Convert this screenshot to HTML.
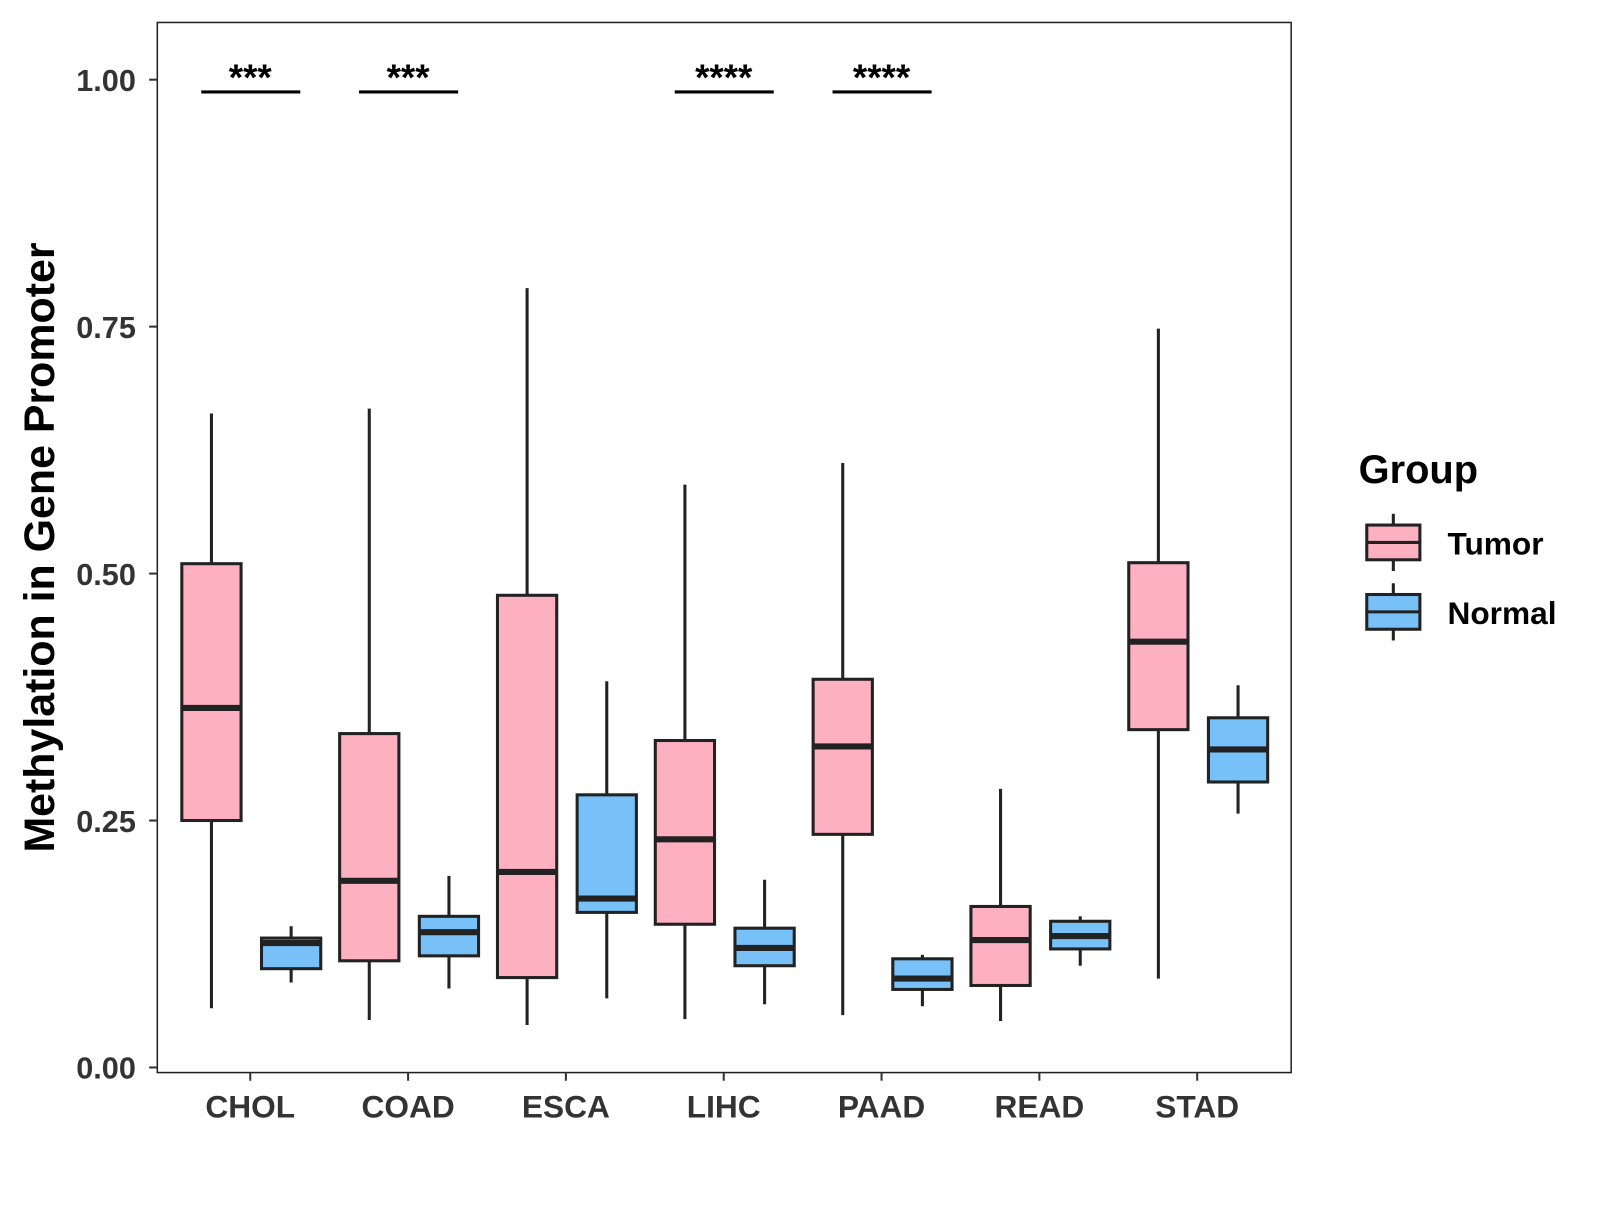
<!DOCTYPE html>
<html><head><meta charset="utf-8"><style>
body{margin:0;background:#fff}
svg text{font-family:"Liberation Sans",Arial,sans-serif;font-weight:bold}
</style></head><body>
<svg id="chart" width="1600" height="1200" xmlns="http://www.w3.org/2000/svg">
<rect x="0" y="0" width="1600" height="1200" fill="#fff"/>
<g transform="scale(1.0215)">
<g id="plot"></g>
<text x="38" y="536" dy="15" font-size="42" fill="#000" text-anchor="middle" transform="rotate(-90 38 536)">Methylation in Gene Promoter</text>
<g>
<text x="1330" y="473" font-size="39" fill="#000">Group</text>
<g>
<line x1="1364" y1="503" x2="1364" y2="559" stroke="#222" stroke-width="3"/>
<rect x="1338" y="514" width="52" height="34" fill="#FDB0C0" stroke="#222" stroke-width="3"/>
<line x1="1338" y1="531" x2="1390" y2="531" stroke="#222" stroke-width="3"/>
<text x="1417" y="543" font-size="31" fill="#000">Tumor</text></g>
<g>
<line x1="1364" y1="571" x2="1364" y2="627" stroke="#222" stroke-width="3"/>
<rect x="1338" y="582" width="52" height="34" fill="#77C1F8" stroke="#222" stroke-width="3"/>
<line x1="1338" y1="599" x2="1390" y2="599" stroke="#222" stroke-width="3"/>
<text x="1417" y="611" font-size="31" fill="#000">Normal</text></g>
</g>
</g>
</svg>
<script>
const categories=["CHOL","COAD","ESCA","LIHC","PAAD","READ","STAD"];
const tumorLow=[0.060,0.048,0.043,0.049,0.053,0.047,0.090];
const tumorQ1=[0.250,0.108,0.091,0.145,0.236,0.083,0.342];
const tumorMed=[0.364,0.189,0.198,0.231,0.325,0.129,0.431];
const tumorQ3=[0.510,0.338,0.478,0.331,0.393,0.163,0.511];
const tumorHigh=[0.662,0.667,0.789,0.590,0.612,0.282,0.748];
const normalLow=[0.086,0.080,0.070,0.064,0.062,0.103,0.257];
const normalQ1=[0.100,0.113,0.157,0.103,0.079,0.120,0.289];
const normalMed=[0.126,0.137,0.171,0.121,0.090,0.133,0.322];
const normalQ3=[0.131,0.153,0.276,0.141,0.110,0.148,0.354];
const normalHigh=[0.143,0.194,0.391,0.190,0.114,0.153,0.387];
const sigLabels=["***","***","","****","****","",""];
const yTicks=[0,0.25,0.5,0.75,1.0];
const yTickLabels=["0.00","0.25","0.50","0.75","1.00"];

const NS="http://www.w3.org/2000/svg";
const g=document.getElementById('plot');
const L=154,R=1264,T=22,B=1050;
const y=v=>1045-v*967;
const x=i=>245+i*154.5;
function el(t,a,p){const e=document.createElementNS(NS,t);for(const k in a)e.setAttribute(k,a[k]);(p||g).appendChild(e);return e;}
const panel=el('rect',{x:L,y:T,width:R-L,height:B-T,fill:'none',stroke:'#222','stroke-width':1.5});


yTicks.forEach((v,i)=>{
  const tk=el('line',{x1:146,x2:L,y1:y(v),y2:y(v),stroke:'#333','stroke-width':2});
  
  
  const t=el('text',{x:133,y:y(v)+11,'font-size':30,fill:'#333','text-anchor':'end'});
  t.textContent=yTickLabels[i];
  
  
});
function box(cx,lo,q1,md,q3,hi,fill,name){
  const gg=el('g',{});
  
  
  el('line',{x1:cx,x2:cx,y1:y(hi),y2:y(lo),stroke:'#222','stroke-width':3},gg);
  el('rect',{x:cx-29,y:y(q3),width:58,height:y(q1)-y(q3),fill:fill,stroke:'#222','stroke-width':3},gg);
  el('line',{x1:cx-29,x2:cx+29,y1:y(md),y2:y(md),stroke:'#222','stroke-width':6},gg);
}
categories.forEach((c,i)=>{
  const cx=x(i);
  box(cx-38,tumorLow[i],tumorQ1[i],tumorMed[i],tumorQ3[i],tumorHigh[i],'#FDB0C0','box-tumor-'+c.toLowerCase());
  box(cx+40,normalLow[i],normalQ1[i],normalMed[i],normalQ3[i],normalHigh[i],'#77C1F8','box-normal-'+c.toLowerCase());
  const tk=el('line',{x1:cx,x2:cx,y1:B,y2:B+8,stroke:'#333','stroke-width':2});
  
  
  const t=el('text',{x:cx,y:1094,'font-size':31,fill:'#333','text-anchor':'middle'});
  t.textContent=c;
  
  
  if(sigLabels[i]){
    const ln=el('line',{x1:cx-48,x2:cx+49,y1:90,y2:90,stroke:'#000','stroke-width':3});
    
    
    const st=el('text',{x:cx,y:88,'font-size':36,fill:'#000','text-anchor':'middle'});
    st.textContent=sigLabels[i];
    
    
  }
});
</script>
</body></html>
